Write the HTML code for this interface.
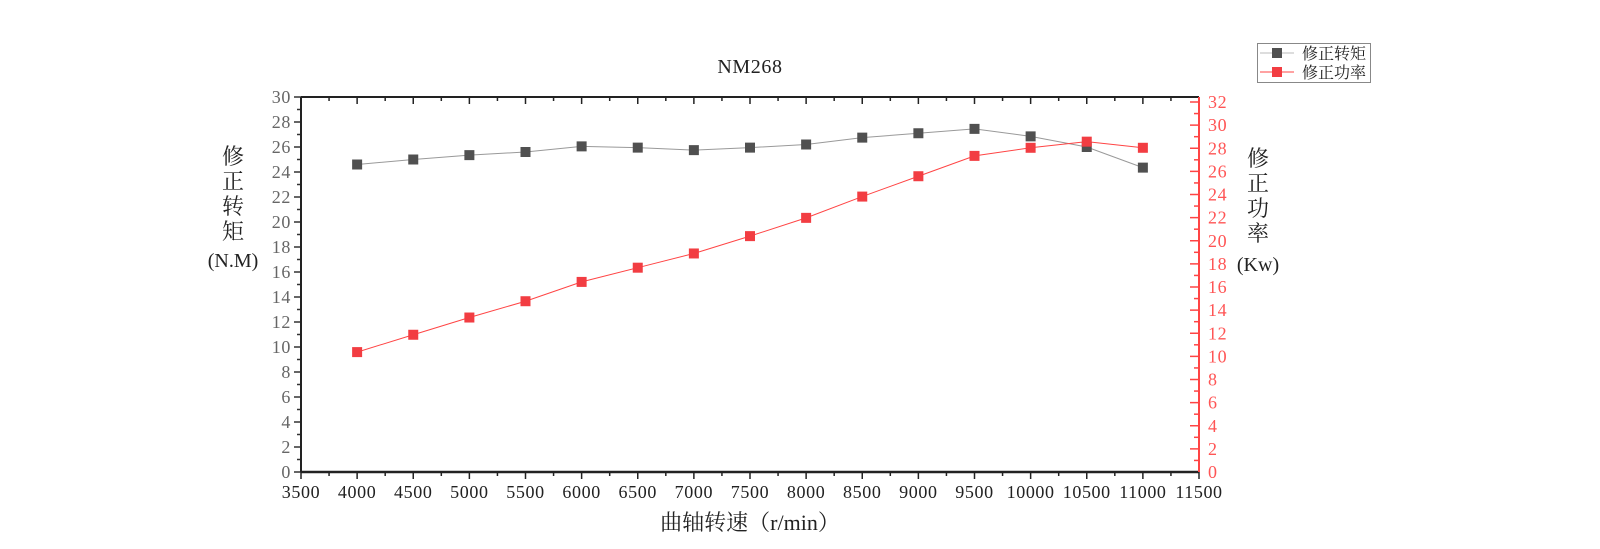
<!DOCTYPE html>
<html><head><meta charset="utf-8"><style>
body{margin:0;background:#fff;width:1600px;height:544px;overflow:hidden}
text{font-family:"Liberation Serif","Noto Serif CJK SC",serif}
.t{letter-spacing:0.6px}
</style></head><body>
<svg id="s" width="1600" height="544" xmlns="http://www.w3.org/2000/svg"></svg>
<script>
const s=document.getElementById('s');let h='';
const L=301,R=1199,T=97,B=472;
const X=v=>L+(v-3500)*(R-L)/8000;
const YL=v=>B-v*(B-T)/30;
const YR=v=>B-v*(B-102)/32;
for(let v=0;v<=30;v+=1){const y=YL(v);const maj=v%2==0;h+=`<line x1="${L-(maj?7:4)}" x2="${L}" y1="${y}" y2="${y}" stroke="#333" stroke-width="1.5"/>`;
if(maj)h+=`<text class="t" x="${L-10}" y="${y+6}" font-size="18" fill="#666" text-anchor="end">${v}</text>`;}
for(let v=0;v<=32;v+=1){const y=YR(v);const maj=v%2==0;h+=`<line x1="${R-(maj?9:5)}" x2="${R}" y1="${y}" y2="${y}" stroke="#f44" stroke-width="1.5"/>`;
if(maj)h+=`<text class="t" x="${R+9}" y="${y+6}" font-size="18" fill="#f55">${v}</text>`;}
for(let v=3500;v<=11500;v+=250){const x=X(v);const maj=v%500==0;h+=`<line x1="${x}" x2="${x}" y1="${B}" y2="${B+(maj?7:4)}" stroke="#222" stroke-width="1.5"/>`;
h+=`<line x1="${x}" x2="${x}" y1="${T}" y2="${T+(maj?7:4)}" stroke="#222" stroke-width="1.5"/>`;
if(maj)h+=`<text class="t" x="${x}" y="${B+26}" font-size="18" fill="#222" text-anchor="middle">${v}</text>`;}
h+=`<line x1="${L}" x2="${R}" y1="${T}" y2="${T}" stroke="#222" stroke-width="2"/>`;
h+=`<line x1="${L}" x2="${R}" y1="${B}" y2="${B}" stroke="#222" stroke-width="2.5"/>`;
h+=`<line x1="${L}" x2="${L}" y1="${T}" y2="${B}" stroke="#222" stroke-width="2"/>`;
h+=`<line x1="${R}" x2="${R}" y1="${T}" y2="${B}" stroke="#f44" stroke-width="2"/>`;
const xs=[4000,4500,5000,5500,6000,6500,7000,7500,8000,8500,9000,9500,10000,10500,11000];
const tq=[24.6,25.0,25.35,25.6,26.05,25.95,25.75,25.95,26.2,26.75,27.1,27.45,26.85,26.0,24.35];
const pw=[10.37,11.87,13.36,14.77,16.44,17.67,18.9,20.4,21.98,23.82,25.58,27.34,28.04,28.57,28.04];
h+=`<polyline fill="none" stroke="#999" stroke-width="1" points="${xs.map((x,i)=>X(x)+','+YL(tq[i])).join(' ')}"/>`;
h+=`<polyline fill="none" stroke="#f44" stroke-width="1" points="${xs.map((x,i)=>X(x)+','+YR(pw[i])).join(' ')}"/>`;
xs.forEach((x,i)=>{h+=`<rect x="${X(x)-5}" y="${YL(tq[i])-5}" width="10" height="10" fill="#505050"/>`;});
xs.forEach((x,i)=>{h+=`<rect x="${X(x)-5}" y="${YR(pw[i])-5}" width="10" height="10" fill="#f23d42"/>`;});
h+=`<text class="t" x="750" y="73" font-size="20" fill="#222" text-anchor="middle">NM268</text>`;
h+=`<text x="750" y="530" font-size="22" fill="#222" text-anchor="middle">曲轴转速（r/min）</text>`;
['修','正','转','矩'].forEach((c,i)=>h+=`<text x="233" y="${164+i*25}" font-size="22" fill="#222" text-anchor="middle">${c}</text>`);
h+=`<text x="233" y="267" font-size="20" fill="#222" text-anchor="middle">(N.M)</text>`;
['修','正','功','率'].forEach((c,i)=>h+=`<text x="1258" y="${166+i*25}" font-size="22" fill="#222" text-anchor="middle">${c}</text>`);
h+=`<text x="1258" y="271" font-size="20" fill="#222" text-anchor="middle">(Kw)</text>`;
h+=`<rect x="1257.5" y="43.5" width="113" height="39" fill="#fff" stroke="#888" stroke-width="1"/>`;
h+=`<line x1="1260" x2="1294" y1="53" y2="53" stroke="#bbb"/><rect x="1272" y="48" width="10" height="10" fill="#505050"/>`;
h+=`<line x1="1260" x2="1294" y1="72" y2="72" stroke="#f44"/><rect x="1272" y="67" width="10" height="10" fill="#f23d42"/>`;
h+=`<text x="1302" y="59" font-size="16" fill="#222">修正转矩</text><text x="1302" y="78" font-size="16" fill="#222">修正功率</text>`;
s.innerHTML=h;
</script>
</body></html>
